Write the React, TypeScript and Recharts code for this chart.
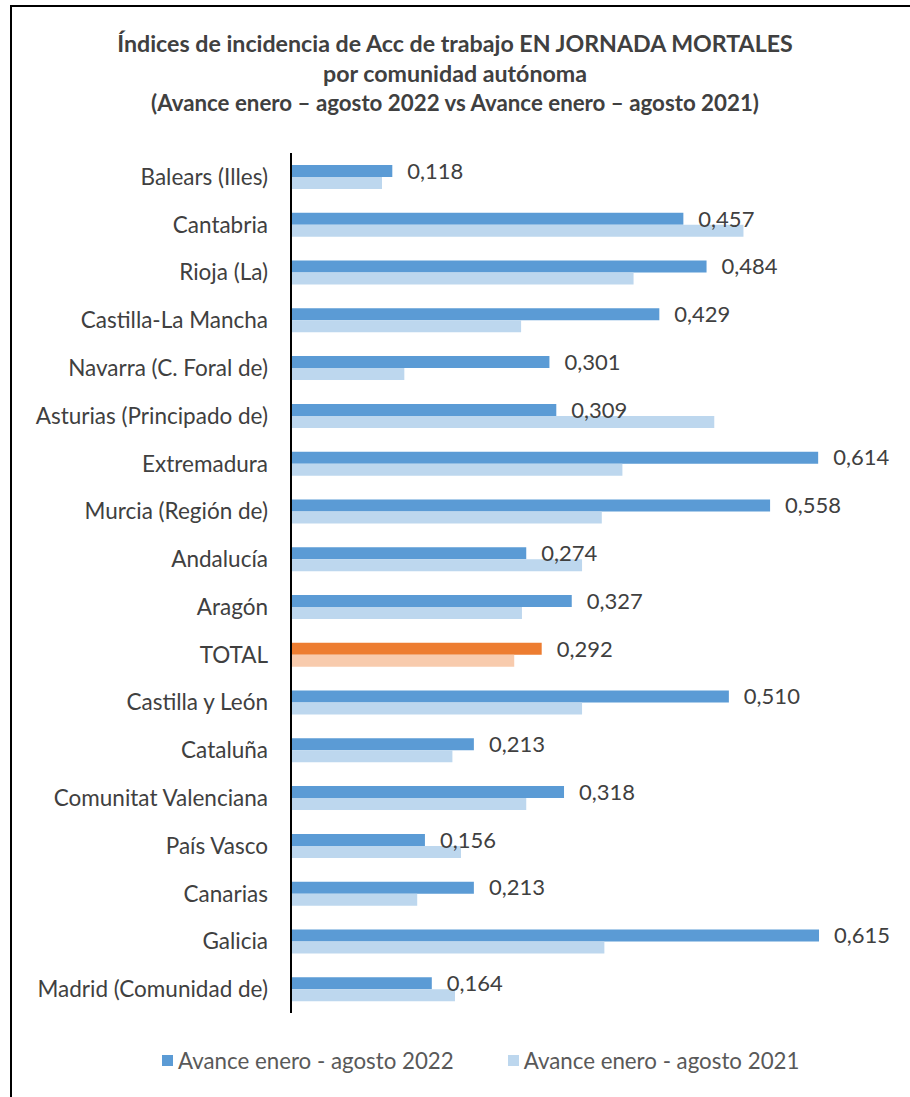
import React from "react";
import { BarChart, Bar, XAxis, YAxis, Cell, LabelList, Legend } from "recharts";

// ─── Data ──────────────────────────────────────────────────────────────────────
const REGIONS = [
  "Balears (Illes)",
  "Cantabria",
  "Rioja (La)",
  "Castilla-La Mancha",
  "Navarra (C. Foral de)",
  "Asturias (Principado de)",
  "Extremadura",
  "Murcia (Región de)",
  "Andalucía",
  "Aragón",
  "TOTAL",
  "Castilla y León",
  "Cataluña",
  "Comunitat Valenciana",
  "País Vasco",
  "Canarias",
  "Galicia",
  "Madrid (Comunidad de)",
];

const VALUES_2022 = [
  0.118, 0.457, 0.484, 0.429, 0.301, 0.309, 0.614, 0.558, 0.274, 0.327, 0.292, 0.51, 0.213, 0.318,
  0.156, 0.213, 0.615, 0.164,
];

const VALUES_2021 = [
  0.106, 0.527, 0.399, 0.268, 0.132, 0.493, 0.386, 0.362, 0.339, 0.269, 0.26, 0.339, 0.188, 0.274,
  0.198, 0.147, 0.365, 0.191,
];

const SERIES_NAMES = ["Avance enero - agosto 2022", "Avance enero - agosto 2021"];

const data = REGIONS.map((name, i) => ({ name, v2022: VALUES_2022[i], v2021: VALUES_2021[i] }));

// ─── Styles ────────────────────────────────────────────────────────────────────
const FONT = "Lato, 'Open Sans', sans-serif";
const BLUE_DARK = "#5B9BD5";
const BLUE_LIGHT = "#BDD7EE";
const ORANGE_DARK = "#ED7D31";
const ORANGE_LIGHT = "#F8CBAD";
const TEXT = "#404040";

const fmt = (v: any) => Number(v).toFixed(3).replace(".", ",");

const LegendContent = () => (
  <div
    style={{
      display: "flex",
      paddingLeft: 162,
      gap: 54,
      fontFamily: FONT,
      fontSize: 22.3,
      color: "#595959",
    }}
  >
    {[BLUE_DARK, BLUE_LIGHT].map((c, i) => (
      <div key={i} style={{ display: "flex", alignItems: "center" }}>
        <span style={{ width: 11, height: 11, background: c, marginRight: 5 }} />
        <span>{SERIES_NAMES[i]}</span>
      </div>
    ))}
  </div>
);

export default function App() {
  return (
    <div style={{ position: "absolute", left: 0, top: 0, width: 910, height: 1097, background: "#fff" }}>
      <div
        style={{
          position: "absolute",
          left: 10,
          top: 5,
          width: 920,
          height: 1110,
          border: "2px solid #000",
          boxSizing: "border-box",
        }}
      />
      <div
        style={{
          position: "absolute",
          left: 0,
          top: 29,
          width: 910,
          textAlign: "center",
          fontFamily: FONT,
          fontWeight: 700,
          color: TEXT,
          fontSize: 23.2,
          lineHeight: "29.5px",
        }}
      >
        <div>Índices de incidencia de Acc de trabajo EN JORNADA MORTALES</div>
        <div>por comunidad autónoma</div>
        <div style={{ fontSize: 22.3 }}>(Avance enero – agosto 2022 vs Avance enero – agosto 2021)</div>
      </div>
      <div style={{ position: "absolute", left: 0, top: 0 }}>
        <BarChart
          width={910}
          height={1097}
          data={data}
          layout="vertical"
          margin={{ top: 153, right: 18, bottom: 84, left: 0 }}
          barGap={0}
          barSize={12}
        >
          <XAxis type="number" domain={[0, 0.7]} hide />
          <YAxis
            type="category"
            dataKey="name"
            width={291}
            axisLine={{ stroke: "#000", strokeWidth: 2 }}
            tickLine={false}
            tickSize={0}
            tickMargin={23}
            interval={0}
            tick={{ fill: TEXT, fontSize: 22.5, fontFamily: FONT }}
          />
          <Legend
            layout="horizontal"
            verticalAlign="middle"
            align="center"
            wrapperStyle={{ top: 1047, left: 0, width: 910 }}
            content={<LegendContent />}
          />
          <Bar dataKey="v2022" name={SERIES_NAMES[0]} fill={BLUE_DARK} isAnimationActive={false}>
            {data.map((d, i) => (
              <Cell key={i} fill={d.name === "TOTAL" ? ORANGE_DARK : BLUE_DARK} />
            ))}
            <LabelList
              dataKey="v2022"
              position="right"
              offset={15}
              formatter={fmt}
              style={{ fill: TEXT, fontSize: 22, fontFamily: FONT }}
            />
          </Bar>
          <Bar dataKey="v2021" name={SERIES_NAMES[1]} fill={BLUE_LIGHT} isAnimationActive={false}>
            {data.map((d, i) => (
              <Cell key={i} fill={d.name === "TOTAL" ? ORANGE_LIGHT : BLUE_LIGHT} />
            ))}
          </Bar>
        </BarChart>
      </div>
    </div>
  );
}
